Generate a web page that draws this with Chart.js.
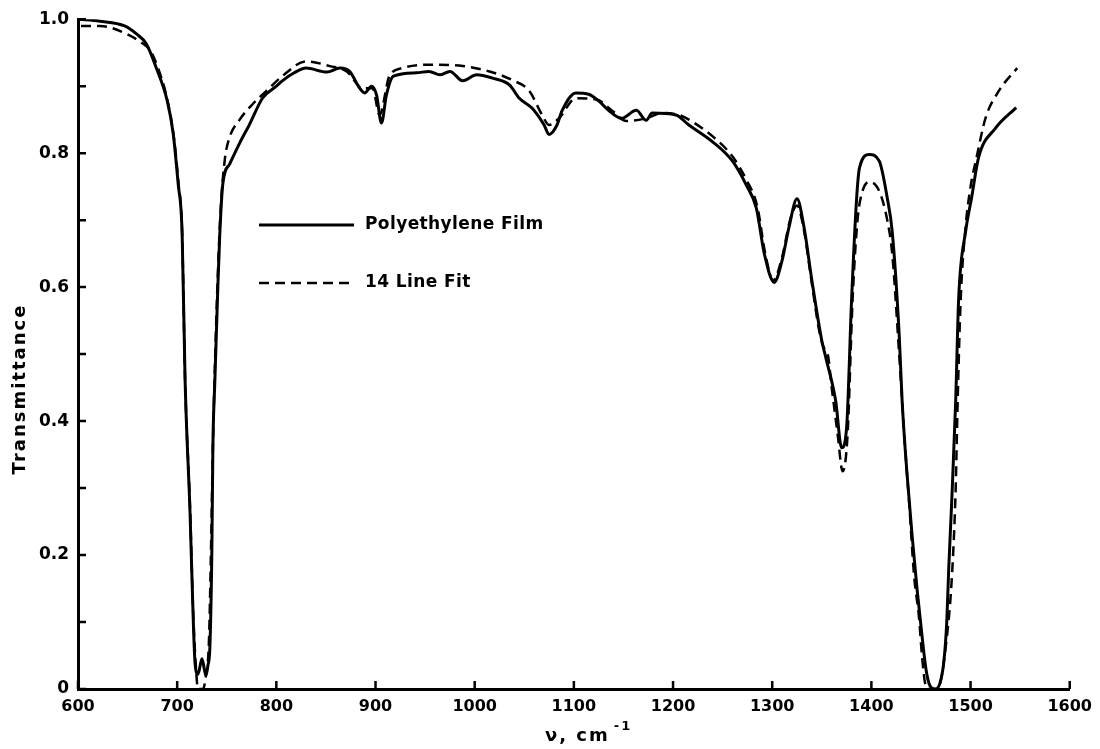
<!DOCTYPE html>
<html>
<head>
<meta charset="utf-8">
<title>Polyethylene Film Transmittance</title>
<script src="https://cdn.jsdelivr.net/npm/chart.js@4.4.1/dist/chart.umd.min.js"></script>
<style>
  html, body { margin: 0; padding: 0; background: #fff; }
  canvas { display: block; }
</style>
</head>
<body>
<canvas id="spectrum" width="1100" height="749"></canvas>
<script>
// Measured spectrum of the film (wavenumber, transmittance)
const waveFilm = [600, 622, 647, 659, 669, 679, 690, 696, 701, 705, 708, 713, 716, 718, 721, 725, 729, 731, 733, 735, 736, 738, 741, 743, 746, 753, 763, 773, 786, 800, 806, 818, 830, 851, 864, 874, 884, 889, 896, 901, 906, 911, 918, 941, 954, 965, 975, 988, 1002, 1018, 1035, 1045, 1058, 1070, 1075, 1083, 1088, 1102, 1115, 1125, 1135, 1148, 1163, 1173, 1179, 1203, 1216, 1239, 1260, 1274, 1284, 1292, 1302, 1310, 1317, 1325, 1332, 1340, 1350, 1354, 1364, 1370, 1375, 1380, 1385, 1388, 1398, 1408, 1416, 1421, 1428, 1431, 1436, 1441, 1446, 1451, 1455, 1459, 1464, 1469, 1473, 1476, 1478, 1481, 1485, 1488, 1495, 1501, 1508, 1525, 1546];
const transFilm = [1.0, 0.997, 0.99, 0.978, 0.963, 0.927, 0.878, 0.829, 0.754, 0.68, 0.46, 0.262, 0.113, 0.039, 0.022, 0.045, 0.02, 0.035, 0.063, 0.21, 0.36, 0.46, 0.6, 0.68, 0.754, 0.784, 0.815, 0.843, 0.882, 0.9, 0.908, 0.92, 0.927, 0.921, 0.927, 0.922, 0.897, 0.89, 0.9, 0.887, 0.845, 0.887, 0.915, 0.92, 0.922, 0.917, 0.922, 0.908, 0.917, 0.912, 0.902, 0.882, 0.867, 0.842, 0.828, 0.842, 0.863, 0.89, 0.888, 0.878, 0.864, 0.852, 0.864, 0.849, 0.86, 0.857, 0.842, 0.818, 0.788, 0.752, 0.718, 0.65, 0.607, 0.64, 0.69, 0.732, 0.69, 0.61, 0.52, 0.495, 0.43, 0.36, 0.39, 0.58, 0.73, 0.778, 0.798, 0.788, 0.733, 0.683, 0.53, 0.43, 0.32, 0.23, 0.15, 0.08, 0.03, 0.005, 0.0, 0.008, 0.04, 0.1, 0.18, 0.28, 0.43, 0.583, 0.683, 0.733, 0.793, 0.837, 0.868];

// Fitted spectrum using 14 lines
const waveFit = [603, 622, 649, 665, 672, 680, 690, 697, 701, 705, 708, 713, 716, 719, 721, 726, 729, 732, 734, 736, 738, 741, 744, 748, 752, 763, 776, 790, 806, 830, 854, 871, 887, 897, 904, 914, 927, 954, 988, 1015, 1038, 1055, 1068, 1075, 1085, 1102, 1123, 1139, 1153, 1173, 1189, 1206, 1216, 1240, 1260, 1274, 1285, 1293, 1301, 1310, 1318, 1325, 1332, 1340, 1348, 1352, 1356, 1360, 1366, 1371, 1376, 1381, 1386, 1391, 1398, 1408, 1416, 1421, 1428, 1434, 1438, 1443, 1448, 1451, 1454, 1458, 1467, 1471, 1473, 1477, 1480, 1483, 1485, 1487, 1490, 1495, 1500, 1506, 1515, 1529, 1547];
const transFit = [0.99, 0.99, 0.978, 0.964, 0.955, 0.93, 0.88, 0.82, 0.76, 0.68, 0.46, 0.27, 0.12, 0.03, 0.0, 0.0, 0.02, 0.07, 0.2, 0.36, 0.48, 0.62, 0.72, 0.79, 0.82, 0.85, 0.873, 0.893, 0.915, 0.937, 0.93, 0.922, 0.897, 0.897, 0.857, 0.915, 0.927, 0.932, 0.93, 0.922, 0.909, 0.893, 0.857, 0.842, 0.852, 0.882, 0.88, 0.863, 0.848, 0.852, 0.86, 0.857, 0.85, 0.825, 0.795, 0.76, 0.72, 0.65, 0.61, 0.645, 0.7, 0.722, 0.685, 0.605, 0.53, 0.51, 0.5, 0.45, 0.38, 0.325, 0.38, 0.58, 0.7, 0.743, 0.757, 0.743, 0.7, 0.65, 0.5, 0.36, 0.28, 0.17, 0.107, 0.05, 0.01, 0.0, 0.0, 0.02, 0.04, 0.09, 0.14, 0.22, 0.3, 0.43, 0.58, 0.69, 0.75, 0.793, 0.852, 0.894, 0.927];

const seriesNames = ["Polyethylene Film", "14 Line Fit"];
const xTickValues = [600, 700, 800, 900, 1000, 1100, 1200, 1300, 1400, 1500, 1600];
const yTickLabels = { 0: "0", 2: "0.2", 4: "0.4", 6: "0.6", 8: "0.8", 10: "1.0" };
const yTitle = "Transmittance";
const xTitle = "\u03BD, cm";
const xTitleExp = "-1";

const FONT = "'DejaVu Sans', sans-serif";

const toPoints = (xs, ys) => xs.map((x, i) => ({ x: x, y: ys[i] }));

// tick marks pointing into the plot area
const innerTicks = {
  id: "innerTicks",
  afterDraw(chart, args, opts) {
    const { ctx, chartArea, scales } = chart;
    ctx.save();
    ctx.strokeStyle = "#000";
    ctx.lineWidth = 2.5;
    ctx.beginPath();
    scales.x.ticks.forEach(t => {
      const px = scales.x.getPixelForValue(t.value);
      ctx.moveTo(px, chartArea.bottom);
      ctx.lineTo(px, chartArea.bottom - opts.length);
    });
    scales.y.ticks.forEach(t => {
      const py = scales.y.getPixelForValue(t.value);
      ctx.moveTo(chartArea.left, py);
      ctx.lineTo(chartArea.left + opts.length, py);
    });
    ctx.stroke();
    ctx.restore();
  }
};

// axis titles, spaced out like the hand lettering
const axisTitles = {
  id: "axisTitles",
  afterDraw(chart, args, opts) {
    const { ctx } = chart;
    ctx.save();
    ctx.fillStyle = "#000";
    ctx.font = opts.font;
    ctx.letterSpacing = opts.spacing + "px";
    ctx.textAlign = "center";
    ctx.textBaseline = "middle";
    ctx.translate(opts.yX, opts.yY);
    ctx.rotate(-Math.PI / 2);
    ctx.fillText(yTitle, 0, 0);
    ctx.restore();

    ctx.save();
    ctx.fillStyle = "#000";
    ctx.font = opts.font;
    ctx.letterSpacing = opts.spacing + "px";
    ctx.textAlign = "left";
    ctx.textBaseline = "alphabetic";
    ctx.fillText(xTitle, opts.xX, opts.xY);
    const w = ctx.measureText(xTitle).width;
    ctx.font = opts.expFont;
    ctx.fillText(xTitleExp, opts.xX + w + 4, opts.xY - 11);
    ctx.restore();
  }
};

// key drawn inside the plot, upper left
const insetKey = {
  id: "insetKey",
  afterDraw(chart, args, opts) {
    const { ctx } = chart;
    ctx.save();
    ctx.fillStyle = "#000";
    ctx.strokeStyle = "#000";
    ctx.font = opts.font;
    ctx.letterSpacing = "0.4px";
    ctx.textBaseline = "middle";
    chart.data.datasets.forEach((ds, i) => {
      const y = opts.top + i * opts.rowGap;
      ctx.lineWidth = ds.borderWidth;
      ctx.setLineDash(ds.borderDash || []);
      ctx.beginPath();
      ctx.moveTo(opts.left, y);
      ctx.lineTo(opts.left + opts.lineLength, y);
      ctx.stroke();
      ctx.setLineDash([]);
      ctx.fillText(ds.label, opts.left + opts.lineLength + opts.textGap, y);
    });
    ctx.restore();
  }
};

new Chart(document.getElementById("spectrum"), {
  type: "line",
  data: {
    datasets: [
      {
        label: seriesNames[0],
        data: toPoints(waveFilm, transFilm),
        borderColor: "#000",
        borderWidth: 3,
        pointRadius: 0,
        cubicInterpolationMode: "monotone",
        fill: false
      },
      {
        label: seriesNames[1],
        data: toPoints(waveFit, transFit),
        borderColor: "#000",
        borderWidth: 2.5,
        borderDash: [10, 6],
        pointRadius: 0,
        cubicInterpolationMode: "monotone",
        fill: false
      }
    ]
  },
  options: {
    responsive: false,
    animation: false,
    devicePixelRatio: 1,
    layout: { padding: { top: 18, right: 29, left: 0, bottom: 0 } },
    plugins: {
      legend: { display: false },
      tooltip: { enabled: false },
      innerTicks: { length: 8 },
      axisTitles: {
        font: "bold 18px " + FONT,
        expFont: "bold 13px " + FONT,
        spacing: 2,
        yX: 20, yY: 389,
        xX: 545, xY: 741
      },
      insetKey: {
        left: 259, top: 225, rowGap: 58, lineLength: 95, textGap: 11,
        font: "bold 17px " + FONT
      }
    },
    scales: {
      x: {
        type: "linear",
        min: 600,
        max: 1600,
        afterBuildTicks: s => { s.ticks = xTickValues.map(v => ({ value: v })); },
        afterFit: s => { s.height = 60; },
        grid: { display: false, drawTicks: false },
        border: { display: true, color: "#000", width: 3 },
        ticks: {
          color: "#000",
          padding: 8,
          maxRotation: 0,
          font: { family: FONT, size: 16, weight: "bold" },
          callback: v => String(v)
        }
      },
      y: {
        min: 0,
        max: 1,
        afterFit: s => { s.width = 78; },
        grid: { display: false, drawTicks: false },
        border: { display: true, color: "#000", width: 3 },
        ticks: {
          stepSize: 0.1,
          color: "#000",
          padding: 9,
          autoSkip: false,
          font: { family: FONT, size: 17, weight: "bold" },
          callback: v => {
            const k = Math.round(v * 10);
            return yTickLabels[k] !== undefined ? yTickLabels[k] : "";
          }
        }
      }
    }
  },
  plugins: [innerTicks, axisTitles, insetKey]
});
</script>
</body>
</html>
